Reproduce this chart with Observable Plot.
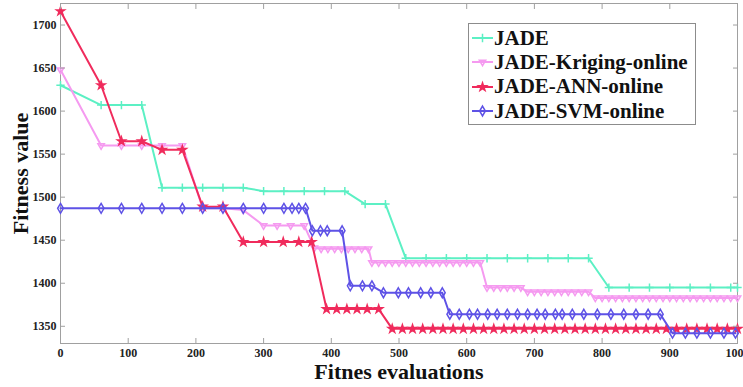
<!DOCTYPE html>
<html><head><meta charset="utf-8">
<script src="https://cdn.jsdelivr.net/npm/d3@7"></script>
<script src="https://cdn.jsdelivr.net/npm/@observablehq/plot@0.6"></script>
<style>
body{margin:0;background:#fff;}
#wrap{position:relative;width:743px;height:387px;overflow:hidden;background:#fff;}
#legend{position:absolute;left:468px;top:23px;width:228px;height:102px;border:1px solid #8c8c8c;background:#fff;box-sizing:border-box;padding-top:2px;font-family:"Liberation Serif",serif;font-weight:bold;font-size:21px;color:#111;}
.row{height:24.3px;display:flex;align-items:center;white-space:nowrap;}
.row svg{flex:none;margin-left:3px;margin-right:1px;}
</style></head>
<body><div id="wrap"><div id="legend"></div></div>
<script>
// ---- data ----
const seriesNames = ["JADE", "JADE-Kriging-online", "JADE-ANN-online", "JADE-SVM-online"];
const seriesColors = ["#5cf0c4", "#f59af0", "#f02b5c", "#5e52e6"];

const jadeX = [0,60,90,120,150,180,210,240,270,300,330,360,390,420,450,480,510,540,570,600,630,660,690,720,750,780,810,840,870,900,930,960,990,1000];
const jadeY = [1630,1607,1607,1607,1511,1511,1511,1511,1511,1507,1507,1507,1507,1507,1492,1492,1429,1429,1429,1429,1429,1429,1429,1429,1429,1429,1395,1395,1395,1395,1395,1395,1395,1395];

const krigX = [0,60,90,120,150,180,210,240,270,300,320,340,360,375,385,395,405,415,425,435,445,455,460,470,480,490,500,510,520,530,540,550,560,570,580,590,600,610,620,630,640,650,660,670,680,690,700,710,720,730,740,750,760,770,780,790,800,810,820,830,840,850,860,870,880,890,900,910,920,930,940,950,960,970,980,990,1000];
const krigY = [1648,1560,1560,1560,1560,1560,1487,1487,1485,1467,1467,1467,1467,1441,1440,1440,1440,1440,1440,1440,1440,1440,1424,1424,1424,1424,1424,1424,1424,1424,1424,1424,1424,1424,1424,1424,1424,1424,1424,1395,1395,1395,1395,1395,1395,1390,1390,1390,1390,1390,1390,1390,1390,1390,1390,1383,1383,1383,1383,1383,1383,1383,1383,1383,1383,1383,1383,1383,1383,1383,1383,1383,1383,1383,1383,1383,1383];

const annX = [0,60,90,120,150,180,210,240,270,300,329,352,371,393,408,423,438,453,470,490,505,520,535,550,565,580,595,610,625,640,655,670,685,700,715,730,745,760,775,790,805,820,835,850,865,880,895,910,925,940,955,970,985,1000];
const annY = [1716,1630,1565,1565,1555,1555,1489,1489,1448,1448,1448,1448,1448,1370,1370,1370,1370,1370,1370,1347,1347,1347,1347,1347,1347,1347,1347,1347,1347,1347,1347,1347,1347,1347,1347,1347,1347,1347,1347,1347,1347,1347,1347,1347,1347,1347,1347,1347,1347,1347,1347,1347,1347,1347];

const svmX = [0,60,90,120,150,180,210,240,270,300,330,342,352,362,372,384,394,416,428,446,460,477,499,514,532,547,564,575,589,604,616,631,645,660,675,690,704,716,731,741,756,773,793,813,832,850,868,886,904,923,940,960,980,997];
const svmY = [1487,1487,1487,1487,1487,1487,1487,1487,1487,1487,1487,1487,1487,1487,1461,1461,1461,1461,1397,1397,1397,1389,1389,1389,1389,1389,1389,1364,1364,1364,1364,1364,1364,1364,1364,1364,1364,1364,1364,1364,1364,1364,1364,1364,1364,1364,1364,1364,1342,1342,1342,1342,1342,1342];

const xTicks = [0,100,200,300,400,500,600,700,800,900,1000];
const yTicks = [1350,1400,1450,1500,1550,1600,1650,1700];

// ---- build ----
const font = '"Liberation Serif", serif';
const zip = (xs, ys, name) => xs.map((x, i) => ({x, y: ys[i], name}));
const series = [
  {data: zip(jadeX, jadeY, seriesNames[0]), color: seriesColors[0], symbol: "plus", fill: "none", r: 2.8, rotate: 0},
  {data: zip(krigX, krigY, seriesNames[1]), color: seriesColors[1], symbol: "triangle", fill: "none", r: 2.4, rotate: 180},
  {data: zip(annX, annY, seriesNames[2]), color: seriesColors[2], symbol: "star", fill: seriesColors[2], r: 2.5, rotate: 0},
  {data: zip(svmX, svmY, seriesNames[3]), color: seriesColors[3], symbol: "diamond", fill: "none", r: 3, rotate: 0}
];

const gray = "#a0a0a0";
const marks = [Plot.frame({stroke: gray})];
for (const s of series) {
  marks.push(Plot.line(s.data, {x: "x", y: "y", stroke: s.color, strokeWidth: 2}));
  marks.push(Plot.dot(s.data, {x: "x", y: "y", symbol: () => s.symbol, stroke: s.color, fill: s.fill, r: s.r, rotate: s.rotate, strokeWidth: 1.5}));
}
marks.push(
  Plot.axisX(xTicks, {anchor: "bottom", tickSize: 0, tickPadding: 5, tickFormat: d => String(d), fontFamily: font, fontSize: 12, fontWeight: "bold", fill: "#222", label: null}),
  Plot.axisY(yTicks, {anchor: "left", tickSize: 0, tickPadding: 4, tickFormat: d => String(d), fontFamily: font, fontSize: 12, fontWeight: "bold", fill: "#222", label: null}),
  Plot.axisX(xTicks, {anchor: "bottom", tickSize: -5, stroke: gray, tickFormat: () => "", label: null}),
  Plot.axisX(xTicks, {anchor: "top", tickSize: -5, stroke: gray, tickFormat: () => "", label: null}),
  Plot.axisY(yTicks, {anchor: "left", tickSize: -5, stroke: gray, tickFormat: () => "", label: null}),
  Plot.axisY(yTicks, {anchor: "right", tickSize: -5, stroke: gray, tickFormat: () => "", label: null}),
  Plot.text(["Fitnes evaluations"], {frameAnchor: "bottom", textAnchor: "middle", dy: 35, fontFamily: font, fontSize: 22, fontWeight: "bold", fill: "#111"}),
  Plot.text(["Fitness value"], {frameAnchor: "left", textAnchor: "middle", rotate: -90, dx: -40, fontFamily: font, fontSize: 22, fontWeight: "bold", fill: "#111"})
);

const chart = Plot.plot({
  width: 743, height: 387,
  marginLeft: 60, marginRight: 6, marginTop: 3, marginBottom: 44,
  style: {fontFamily: font, background: "white"},
  x: {domain: [0, 1000]},
  y: {domain: [1330, 1725]},
  marks
});
document.getElementById("wrap").prepend(chart);

// ---- legend ----
const symMap = {plus: d3.symbolPlus, triangle: d3.symbolTriangle, star: d3.symbolStar, diamond: d3.symbolDiamond};
const legend = document.getElementById("legend");
series.forEach((s, i) => {
  const row = document.createElement("div");
  row.className = "row";
  const svg = d3.create("svg").attr("width", 21).attr("height", 20);
  svg.append("line").attr("x1", 0).attr("x2", 21).attr("y1", 10).attr("y2", 10).attr("stroke", s.color).attr("stroke-width", 2);
  svg.append("path").attr("transform", `translate(10.5,10) rotate(${s.rotate})`)
    .attr("d", d3.symbol(symMap[s.symbol], Math.PI * s.r * s.r)())
    .attr("stroke", s.color).attr("fill", s.fill).attr("stroke-width", 1.5);
  row.appendChild(svg.node());
  const t = document.createElement("span");
  t.textContent = seriesNames[i];
  row.appendChild(t);
  legend.appendChild(row);
});
</script>
</body></html>
